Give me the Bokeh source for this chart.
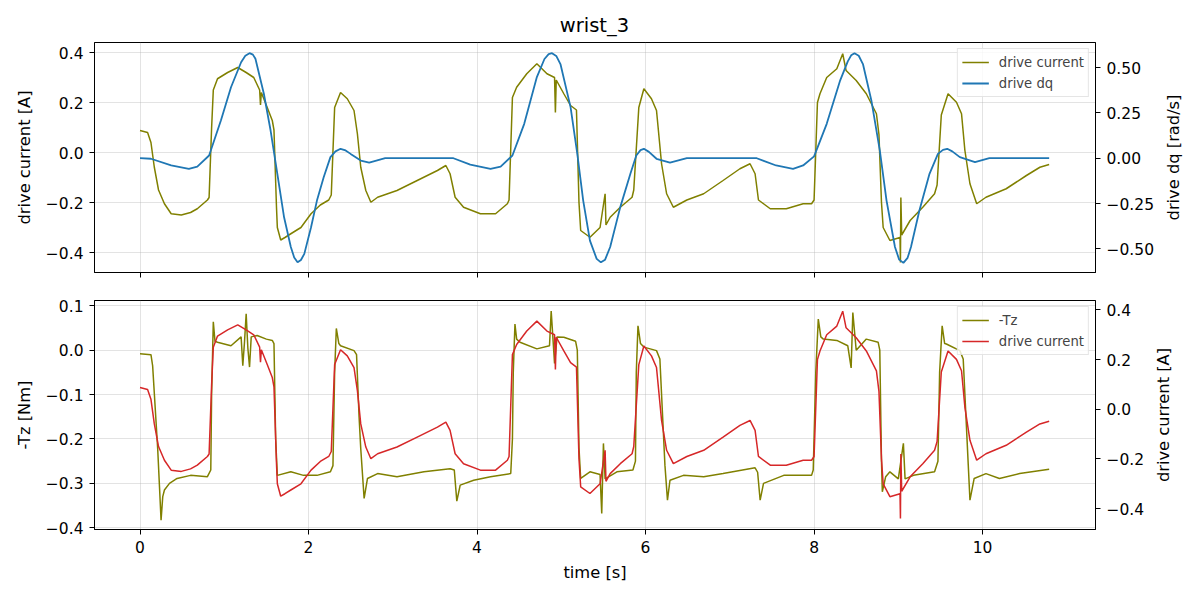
from bokeh.plotting import figure
from bokeh.models import (Range1d, LinearAxis, FixedTicker, CustomLabelingPolicy, Label,
                          Title)
from bokeh.layouts import column, row
from bokeh.embed import file_html
from bokeh.resources import INLINE

FONT = "DejaVu Sans"

# ---- data (time in s) ----
t_current = [0.00, 0.09, 0.13, 0.17, 0.22, 0.29, 0.37, 0.49, 0.60, 0.68, 0.80, 0.82, 0.85, 0.87,
             0.92, 1.04, 1.16, 1.26, 1.35, 1.42, 1.43, 1.44, 1.51, 1.57, 1.59, 1.62, 1.63, 1.67,
             1.72, 1.79, 1.91, 2.03, 2.14, 2.24, 2.27, 2.31, 2.38, 2.46, 2.54, 2.58, 2.62, 2.68,
             2.74, 2.82, 3.05, 3.29, 3.53, 3.63, 3.68, 3.74, 3.84, 4.04, 4.22, 4.36, 4.38, 4.42,
             4.47, 4.59, 4.71, 4.83, 4.92, 4.93, 4.94, 5.03, 5.11, 5.18, 5.21, 5.23, 5.34, 5.46,
             5.52, 5.53, 5.58, 5.70, 5.84, 5.86, 5.92, 5.98, 6.07, 6.13, 6.19, 6.25, 6.33, 6.49,
             6.69, 6.92, 7.12, 7.24, 7.30, 7.34, 7.48, 7.67, 7.87, 7.97, 8.00, 8.04, 8.07, 8.15,
             8.27, 8.34, 8.38, 8.50, 8.62, 8.74, 8.77, 8.80, 8.82, 8.90, 9.02, 9.025, 9.03, 9.04,
             9.14, 9.29, 9.43, 9.46, 9.51, 9.59, 9.69, 9.75, 9.79, 9.85, 9.93, 10.04, 10.28,
             10.52, 10.68, 10.79]
drive_current = [0.088, 0.080, 0.040, -0.059, -0.150, -0.205, -0.245, -0.250, -0.240, -0.225,
                 -0.190, -0.180, 0.100, 0.250, 0.295, 0.320, 0.340, 0.320, 0.300, 0.250, 0.190,
                 0.240, 0.180, 0.128, 0.090, -0.220, -0.300, -0.350, -0.340, -0.325, -0.300,
                 -0.245, -0.210, -0.190, -0.170, 0.180, 0.240, 0.215, 0.168, 0.075, -0.059,
                 -0.152, -0.199, -0.179, -0.152, -0.112, -0.072, -0.052, -0.085, -0.179, -0.219,
                 -0.245, -0.245, -0.205, -0.190, 0.220, 0.261, 0.315, 0.355, 0.315, 0.300, 0.160,
                 0.290, 0.235, 0.188, 0.170, -0.200, -0.312, -0.339, -0.300, -0.165, -0.290,
                 -0.259, -0.219, -0.179, -0.150, 0.180, 0.255, 0.215, 0.168, -0.045, -0.165,
                 -0.219, -0.190, -0.165, -0.112, -0.065, -0.045, -0.085, -0.190, -0.225, -0.225,
                 -0.205, -0.205, -0.190, 0.200, 0.235, 0.300, 0.335, 0.395, 0.328, 0.288, 0.235,
                 0.155, 0.072, -0.200, -0.300, -0.352, -0.340, -0.440, -0.180, -0.330, -0.272,
                 -0.219, -0.165, -0.130, 0.150, 0.235, 0.201, 0.155, 0.008, -0.125, -0.205,
                 -0.179, -0.145, -0.092, -0.059, -0.048]

t_dq = [0.00, 0.13, 0.37, 0.58, 0.68, 0.82, 0.96, 1.08, 1.20, 1.25, 1.30, 1.34, 1.37, 1.47,
        1.55, 1.63, 1.71, 1.79, 1.83, 1.87, 1.91, 1.95, 2.03, 2.10, 2.18, 2.26, 2.32, 2.38,
        2.44, 2.50, 2.62, 2.72, 2.91, 3.72, 3.92, 4.16, 4.28, 4.42, 4.56, 4.71, 4.80, 4.85,
        4.89, 4.94, 4.99, 5.11, 5.19, 5.26, 5.34, 5.42, 5.47, 5.52, 5.58, 5.70, 5.82, 5.89,
        5.94, 5.98, 6.04, 6.13, 6.29, 6.49, 7.32, 7.55, 7.75, 7.87, 8.00, 8.15, 8.31, 8.40,
        8.44, 8.48, 8.53, 8.58, 8.68, 8.78, 8.86, 8.96, 9.01, 9.06, 9.11, 9.15, 9.25, 9.37,
        9.47, 9.53, 9.58, 9.64, 9.73, 9.91, 10.08, 10.79]
drive_dq = [0.0, -0.003, -0.040, -0.059, -0.046, 0.015, 0.208, 0.392, 0.530, 0.566, 0.580,
            0.572, 0.549, 0.356, 0.153, -0.086, -0.326, -0.490, -0.548, -0.575, -0.562, -0.528,
            -0.381, -0.234, -0.105, 0.006, 0.038, 0.052, 0.043, 0.024, -0.013, -0.024, 0.0,
            0.0, -0.035, -0.059, -0.046, 0.015, 0.190, 0.448, 0.548, 0.575, 0.580, 0.565,
            0.520, 0.282, 0.024, -0.234, -0.455, -0.556, -0.575, -0.560, -0.490, -0.270,
            -0.086, 0.015, 0.045, 0.052, 0.035, -0.003, -0.024, 0.0, 0.0, -0.040, -0.059,
            -0.040, 0.010, 0.190, 0.430, 0.535, 0.568, 0.580, 0.566, 0.520, 0.319, 0.043,
            -0.234, -0.490, -0.560, -0.578, -0.550, -0.490, -0.289, -0.086, 0.024, 0.046,
            0.052, 0.038, 0.006, -0.022, 0.0, 0.0]

t_tz = [0.00, 0.13, 0.15, 0.21, 0.25, 0.27, 0.29, 0.35, 0.44, 0.60, 0.80, 0.84, 0.85, 0.87,
        0.89, 0.92, 1.08, 1.20, 1.22, 1.24, 1.26, 1.28, 1.30, 1.32, 1.39, 1.50, 1.57, 1.59,
        1.61, 1.63, 1.79, 1.94, 2.10, 2.26, 2.29, 2.31, 2.33, 2.36, 2.38, 2.54, 2.57, 2.60,
        2.62, 2.66, 2.70, 2.82, 3.05, 3.37, 3.68, 3.73, 3.76, 3.80, 3.96, 4.16, 4.40, 4.42,
        4.43, 4.45, 4.47, 4.51, 4.71, 4.86, 4.88, 4.92, 4.95, 5.03, 5.17, 5.19, 5.21, 5.23,
        5.34, 5.46, 5.48, 5.50, 5.52, 5.66, 5.85, 5.88, 5.89, 5.91, 5.94, 5.98, 6.13, 6.17,
        6.23, 6.26, 6.29, 6.45, 6.69, 6.92, 7.30, 7.33, 7.36, 7.40, 7.64, 7.97, 7.99, 8.02,
        8.05, 8.08, 8.11, 8.27, 8.40, 8.44, 8.46, 8.50, 8.62, 8.76, 8.78, 8.80, 8.81, 8.85,
        8.90, 9.00, 9.06, 9.08, 9.18, 9.43, 9.47, 9.49, 9.52, 9.55, 9.57, 9.73, 9.77, 9.83,
        9.85, 9.90, 10.04, 10.20, 10.44, 10.79]
minus_tz = [-0.008, -0.010, -0.035, -0.222, -0.383, -0.330, -0.315, -0.300, -0.289, -0.282,
            -0.285, -0.270, -0.100, 0.064, 0.020, 0.018, 0.010, 0.030, -0.035, 0.018, 0.082,
            0.005, -0.038, 0.030, 0.033, 0.025, 0.022, 0.015, -0.200, -0.282, -0.274, -0.282,
            -0.282, -0.274, -0.260, -0.050, 0.049, 0.015, 0.010, -0.001, -0.010, -0.150,
            -0.222, -0.334, -0.289, -0.278, -0.285, -0.274, -0.267, -0.270, -0.340, -0.304,
            -0.293, -0.285, -0.278, -0.200, -0.050, 0.059, 0.025, 0.018, 0.003, 0.010, 0.088,
            -0.030, 0.030, 0.029, 0.020, 0.000, -0.220, -0.289, -0.274, -0.280, -0.368,
            -0.210, -0.290, -0.274, -0.270, -0.250, -0.050, 0.055, 0.015, 0.007, -0.001,
            -0.020, -0.259, -0.338, -0.293, -0.282, -0.285, -0.278, -0.265, -0.275, -0.338,
            -0.300, -0.282, -0.282, -0.270, -0.050, 0.070, 0.030, 0.025, 0.022, 0.010, -0.040,
            0.085, 0.000, 0.025, 0.018, 0.000, -0.250, -0.319, -0.285, -0.274, -0.290, -0.210,
            -0.290, -0.282, -0.274, -0.250, -0.050, 0.055, 0.015, 0.014, -0.001, -0.020,
            -0.259, -0.338, -0.289, -0.278, -0.289, -0.278, -0.268]

# ---- ticks ----
x_ticks = [0, 2, 4, 6, 8, 10]
x_tick_labels = ["0", "2", "4", "6", "8", "10"]
current_ticks = [-0.4, -0.2, 0.0, 0.2, 0.4]
current_tick_labels = ["\u22120.4", "\u22120.2", "0.0", "0.2", "0.4"]
dq_ticks = [-0.5, -0.25, 0.0, 0.25, 0.5]
dq_tick_labels = ["\u22120.50", "\u22120.25", "0.00", "0.25", "0.50"]
tz_ticks = [-0.4, -0.3, -0.2, -0.1, 0.0, 0.1]
tz_tick_labels = ["\u22120.4", "\u22120.3", "\u22120.2", "\u22120.1", "0.0", "0.1"]

OLIVE = "#808000"
BLUE = "#1f77b4"
RED = "#d62728"
TICK_FONT = "15.5px"
LABEL_FONT = "16.3px"


def style_axis(ax, ticks, labels):
    ax.ticker = FixedTicker(ticks=ticks)
    ax.major_label_overrides = {t: l for t, l in zip(ticks, labels)}
    ax.minor_tick_line_color = None
    ax.major_tick_in = 0
    ax.major_tick_out = 5
    ax.major_tick_line_color = "black"
    ax.axis_line_color = "black"
    ax.major_label_text_font = FONT
    ax.major_label_text_font_size = TICK_FONT
    ax.major_label_text_color = "black"
    ax.major_label_standoff = 6
    ax.axis_label_text_font = FONT
    ax.axis_label_text_font_size = LABEL_FONT
    ax.axis_label_text_font_style = "normal"
    ax.axis_label_text_color = "black"
    ax.axis_label_standoff = 9


def style_plot(p):
    p.outline_line_color = "black"
    p.outline_line_alpha = 1
    p.outline_line_width = 1
    p.xgrid[0].ticker = FixedTicker(ticks=x_ticks)
    for g in (p.xgrid[0], p.ygrid[0]):
        g.grid_line_color = "#b0b0b0"
        g.grid_line_alpha = 0.35
    p.background_fill_color = "white"


def style_legend(p):
    lg = p.legend[0]
    lg.location = "top_right"
    lg.margin = 6
    lg.padding = 4
    lg.spacing = 3
    lg.glyph_width = 27
    lg.glyph_height = 18
    lg.label_height = 18
    lg.label_standoff = 10
    lg.label_text_font = FONT
    lg.label_text_font_size = "13.2px"
    lg.border_line_color = "#cccccc"
    lg.background_fill_alpha = 0.8


def bare(width, height, top, bottom):
    s = figure(width=width, height=height, x_range=Range1d(0, 1), y_range=Range1d(0, 1),
               x_axis_type=None, y_axis_type=None, output_backend="svg",
               toolbar_location=None, min_border=0, min_border_top=top,
               min_border_bottom=bottom, outline_line_color=None)
    s.grid.visible = False
    return s


def right_title(width, height, top, bottom, text):
    # twin-axis title on the right, reading bottom to top like matplotlib's
    s = bare(width, height, top, bottom)
    s.add_layout(Title(text=text, align="center", standoff=0, text_font=FONT,
                       text_font_size=LABEL_FONT, text_font_style="normal",
                       text_color="black"), "left")
    return s


x_range = Range1d(-0.54, 11.34)

# ---- title ----
title = bare(1192, 40, 0, 0)
title.add_layout(Label(x=594, y=15, x_units="screen", y_units="screen", text="wrist_3",
                       text_align="center", text_baseline="alphabetic", text_font=FONT,
                       text_font_size="19.5px", text_color="black"))

# ---- top: drive current / drive dq ----
p1 = figure(width=1161, height=246, x_range=x_range, y_range=Range1d(-0.48, 0.44),
            output_backend="svg", toolbar_location=None,
            min_border_left=94, min_border_right=66, min_border_top=2, min_border_bottom=14)
p1.extra_y_ranges = {"dq": Range1d(-0.631, 0.639)}

p1.line(t_current, drive_current, color=OLIVE, line_width=1.5, legend_label="drive current")
p1.line(t_dq, drive_dq, color=BLUE, line_width=1.8, y_range_name="dq", legend_label="drive dq")
p1.add_layout(LinearAxis(y_range_name="dq"), "right")

style_axis(p1.xaxis[0], x_ticks, x_tick_labels)
# shared x: ticks only, no labels on the upper panel
p1.xaxis[0].major_label_policy = CustomLabelingPolicy(code="return new Set()")
p1.xaxis[0].major_label_text_font_size = "0px"
p1.xaxis[0].major_label_standoff = 0
style_axis(p1.left[0], current_ticks, current_tick_labels)
p1.left[0].axis_label = "drive current [A]"
style_axis(p1.right[0], dq_ticks, dq_tick_labels)
p1.ygrid[0].ticker = FixedTicker(ticks=current_ticks)
style_plot(p1)
style_legend(p1)
q1 = right_title(31, 246, 2, 14, "drive dq [rad/s]")

# ---- bottom: -Tz / drive current ----
p2 = figure(width=1151, height=306, x_range=x_range, y_range=Range1d(-0.404, 0.112),
            output_backend="svg", toolbar_location=None,
            min_border_left=94, min_border_right=56, min_border_top=14, min_border_bottom=63)
p2.extra_y_ranges = {"cur": Range1d(-0.484, 0.438)}

p2.line(t_tz, minus_tz, color=OLIVE, line_width=1.5, legend_label="-Tz")
p2.line(t_current, drive_current, color=RED, line_width=1.5, y_range_name="cur",
        legend_label="drive current")
p2.add_layout(LinearAxis(y_range_name="cur"), "right")

style_axis(p2.xaxis[0], x_ticks, x_tick_labels)
p2.xaxis[0].axis_label = "time [s]"
p2.xaxis[0].axis_label_standoff = 7
style_axis(p2.left[0], tz_ticks, tz_tick_labels)
p2.left[0].axis_label = "-Tz [Nm]"
style_axis(p2.right[0], current_ticks, current_tick_labels)
p2.ygrid[0].ticker = FixedTicker(ticks=tz_ticks)
style_plot(p2)
style_legend(p2)
q2 = right_title(41, 306, 14, 63, "drive current [A]")

layout = column(title, row(p1, q1), row(p2, q2))
open("out.html", "w").write(file_html(layout, INLINE))
